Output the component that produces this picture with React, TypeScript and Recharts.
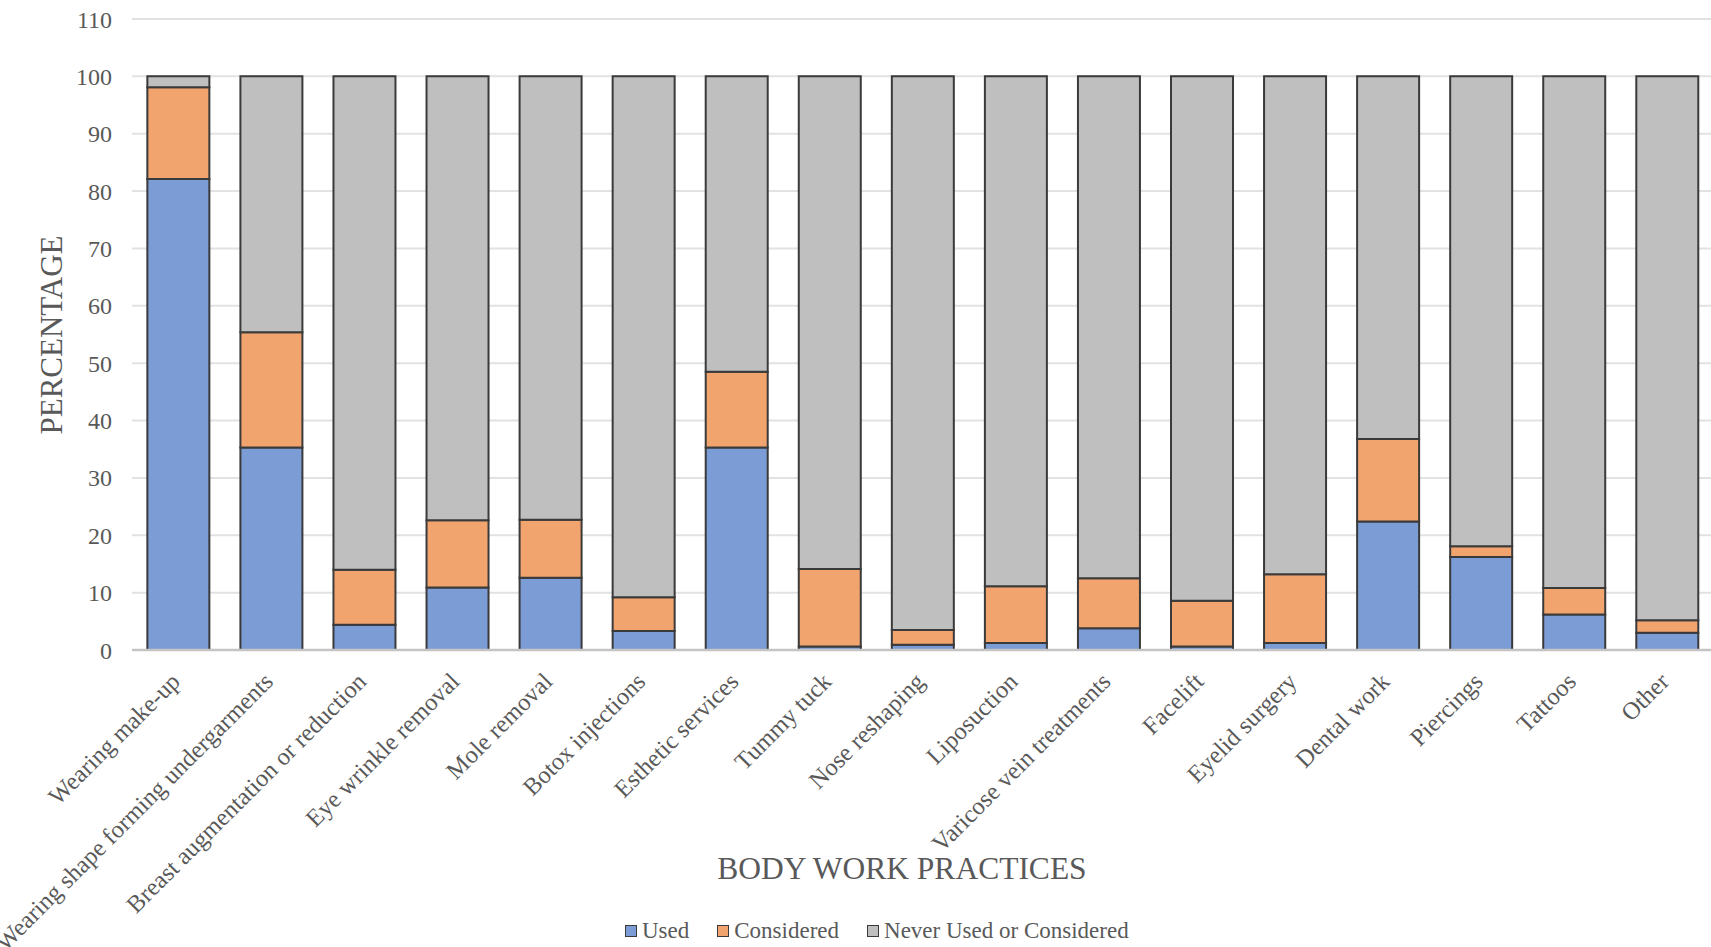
import React from 'react';
import { BarChart, Bar, XAxis, YAxis, CartesianGrid } from 'recharts';

const practices = [
  'Wearing make-up',
  'Wearing shape forming undergarments',
  'Breast augmentation or reduction',
  'Eye wrinkle removal',
  'Mole removal',
  'Botox injections',
  'Esthetic services',
  'Tummy tuck',
  'Nose reshaping',
  'Liposuction',
  'Varicose vein treatments',
  'Facelift',
  'Eyelid surgery',
  'Dental work',
  'Piercings',
  'Tattoos',
  'Other',
];

const used = [82.1, 35.3, 4.4, 10.9, 12.6, 3.3, 35.3, 0.6, 0.9, 1.2, 3.8, 0.6, 1.2, 22.4, 16.2, 6.2, 3.0];
const considered = [16.0, 20.1, 9.6, 11.7, 10.1, 5.9, 13.2, 13.5, 2.6, 9.9, 8.7, 8.0, 12.0, 14.4, 1.9, 4.6, 2.2];
const never = [1.9, 44.6, 86.0, 77.4, 77.3, 90.8, 51.5, 85.9, 96.5, 88.9, 87.5, 91.4, 86.8, 63.2, 81.9, 89.2, 94.8];

const yTicks = [0, 10, 20, 30, 40, 50, 60, 70, 80, 90, 100, 110];

const data = practices.map((name, i) => ({
  name,
  used: used[i],
  considered: considered[i],
  never: never[i],
}));

const FONT = '"Liberation Serif", "Times New Roman", serif';
const TEXT = '#595959';
const OUTLINE = '#3a3a3a';

const series = [
  { key: 'used', label: 'Used', color: '#7b9cd5' },
  { key: 'considered', label: 'Considered', color: '#f2a46e' },
  { key: 'never', label: 'Never Used or Considered', color: '#bfbfbf' },
];

// category labels slanted up to the right, ending just under each bar
function XTick(props: any) {
  const { x, y, payload } = props;
  const px = x + 3;
  const py = y + 33;
  return (
    <text
      x={px}
      y={py}
      textAnchor="end"
      transform={`rotate(-45, ${px}, ${py})`}
      fontFamily={FONT}
      fontSize={24.5}
      fill={TEXT}
    >
      {payload.value}
    </text>
  );
}

function YTitle() {
  return (
    <text
      x={62}
      y={335}
      textAnchor="middle"
      transform="rotate(-90, 62, 335)"
      fontFamily={FONT}
      fontSize={31}
      fill={TEXT}
    >
      PERCENTAGE
    </text>
  );
}

function XTitle() {
  return (
    <text x={902} y={879} textAnchor="middle" fontFamily={FONT} fontSize={31.5} fill={TEXT}>
      BODY WORK PRACTICES
    </text>
  );
}

function LegendRow() {
  return (
    <div
      style={{
        position: 'absolute',
        left: 625,
        top: 918,
        display: 'flex',
        alignItems: 'center',
        fontFamily: FONT,
        fontSize: 23,
        color: TEXT,
        whiteSpace: 'nowrap',
      }}
    >
      {series.map((s) => (
        <div key={s.key} style={{ display: 'flex', alignItems: 'center', marginRight: 28 }}>
          <span
            style={{
              display: 'inline-block',
              width: 10,
              height: 10,
              background: s.color,
              border: `1.5px solid ${OUTLINE}`,
              marginRight: 5,
            }}
          />
          <span>{s.label}</span>
        </div>
      ))}
    </div>
  );
}

export default function App() {
  return (
    <div
      style={{
        position: 'absolute',
        left: 0,
        top: 0,
        width: 1711,
        height: 947,
        overflow: 'hidden',
        background: '#fff',
      }}
    >
      <BarChart
        width={1714}
        height={947}
        data={data}
        margin={{ top: 19, right: 0, bottom: 0, left: 72 }}
        barCategoryGap="16.5%"
      >
        <CartesianGrid vertical={false} stroke="#e2e2e2" strokeWidth={2} />
        <XAxis
          dataKey="name"
          interval={0}
          height={297}
          tickLine={false}
          tickSize={0}
          tickMargin={0}
          axisLine={{ stroke: '#c4c4c4', strokeWidth: 2.5 }}
          tick={(p: any) => <XTick {...p} />}
          label={<XTitle />}
        />
        <YAxis
          width={60}
          domain={[0, 110]}
          ticks={yTicks}
          axisLine={false}
          tickLine={false}
          tickSize={0}
          tickMargin={20}
          tick={{ fontFamily: FONT, fontSize: 24, fill: TEXT }}
          label={<YTitle />}
        />
        {series.map((s) => (
          <Bar
            key={s.key}
            dataKey={s.key}
            stackId="a"
            fill={s.color}
            stroke={OUTLINE}
            strokeWidth={2}
            isAnimationActive={false}
          />
        ))}
      </BarChart>
      <LegendRow />
    </div>
  );
}
